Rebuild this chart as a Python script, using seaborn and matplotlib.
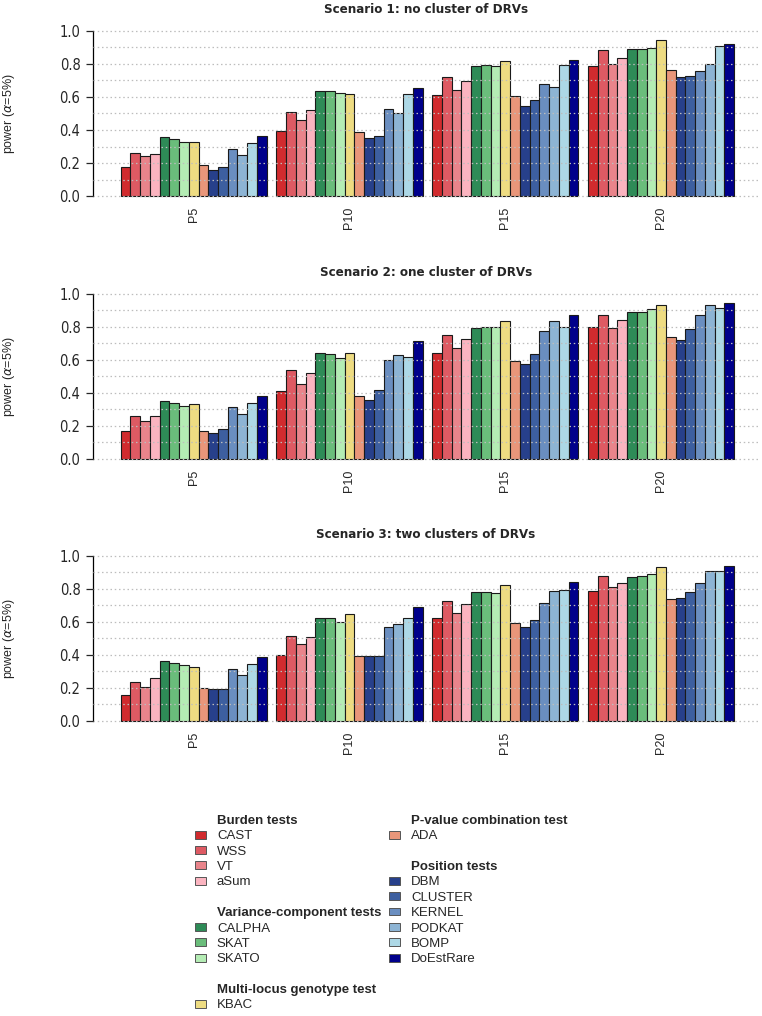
import pandas as pd
import seaborn as sns
import matplotlib.pyplot as plt
from matplotlib import font_manager
from matplotlib.patches import Patch

groups = ['P5', 'P10', 'P15', 'P20']
tests = ['CAST', 'WSS', 'VT', 'aSum', 'CALPHA', 'SKAT', 'SKATO', 'KBAC', 'ADA',
         'DBM', 'CLUSTER', 'KERNEL', 'PODKAT', 'BOMP', 'DoEstRare']
colors = ['#d12b2e', '#de5a63', '#e9848b', '#fbb4c0', '#2e8b57', '#6abd7b', '#b4ecb4',
          '#eedc82', '#e9967a', '#27408b', '#3d5fa0', '#6a8ec0', '#8db4d4', '#add8e6', '#00008b']

titles = ['Scenario 1: no cluster of DRVs',
          'Scenario 2: one cluster of DRVs',
          'Scenario 3: two clusters of DRVs']

# power per group, one list per test order above
s1_p5 = [0.173, 0.26, 0.244, 0.254, 0.358, 0.348, 0.325, 0.325, 0.187, 0.16, 0.175, 0.285, 0.248, 0.319, 0.366]
s1_p10 = [0.392, 0.508, 0.461, 0.522, 0.638, 0.634, 0.626, 0.62, 0.388, 0.35, 0.362, 0.526, 0.506, 0.618, 0.656]
s1_p15 = [0.612, 0.724, 0.64, 0.697, 0.789, 0.795, 0.79, 0.821, 0.606, 0.545, 0.583, 0.681, 0.66, 0.793, 0.827]
s1_p20 = [0.79, 0.882, 0.803, 0.837, 0.888, 0.89, 0.894, 0.943, 0.764, 0.724, 0.726, 0.76, 0.8, 0.911, 0.92]

s2_p5 = [0.168, 0.26, 0.227, 0.26, 0.349, 0.339, 0.318, 0.333, 0.168, 0.156, 0.183, 0.314, 0.27, 0.335, 0.381]
s2_p10 = [0.41, 0.54, 0.452, 0.521, 0.641, 0.635, 0.613, 0.641, 0.379, 0.355, 0.414, 0.596, 0.627, 0.619, 0.712]
s2_p15 = [0.639, 0.748, 0.671, 0.728, 0.795, 0.8, 0.8, 0.832, 0.592, 0.572, 0.635, 0.771, 0.834, 0.8, 0.868]
s2_p20 = [0.8, 0.868, 0.795, 0.838, 0.89, 0.888, 0.905, 0.929, 0.74, 0.718, 0.787, 0.87, 0.931, 0.913, 0.945]

s3_p5 = [0.154, 0.235, 0.207, 0.26, 0.361, 0.351, 0.337, 0.323, 0.197, 0.191, 0.191, 0.316, 0.28, 0.341, 0.385]
s3_p10 = [0.396, 0.513, 0.465, 0.507, 0.623, 0.623, 0.6, 0.649, 0.394, 0.394, 0.394, 0.566, 0.588, 0.623, 0.688]
s3_p15 = [0.621, 0.728, 0.653, 0.708, 0.779, 0.783, 0.775, 0.822, 0.592, 0.568, 0.609, 0.714, 0.785, 0.793, 0.842]
s3_p20 = [0.789, 0.874, 0.813, 0.836, 0.872, 0.878, 0.892, 0.929, 0.736, 0.744, 0.783, 0.832, 0.909, 0.907, 0.935]

scenarios = [[s1_p5, s1_p10, s1_p15, s1_p20],
             [s2_p5, s2_p10, s2_p15, s2_p20],
             [s3_p5, s3_p10, s3_p15, s3_p20]]

legend_layout = [('Burden tests', ['CAST', 'WSS', 'VT', 'aSum']),
                 ('Variance-component tests', ['CALPHA', 'SKAT', 'SKATO']),
                 ('Multi-locus genotype test', ['KBAC']),
                 ('P-value combination test', ['ADA']),
                 ('Position tests', ['DBM', 'CLUSTER', 'KERNEL', 'PODKAT', 'BOMP', 'DoEstRare'])]

# narrow font for ticks and titles if there is one
fonts = font_manager.fontManager.ttflist
if any(f.name == 'Liberation Sans Narrow' for f in fonts):
    narrow = dict(fontfamily='Liberation Sans Narrow')
elif any(f.name == 'DejaVu Sans' and f.stretch == 'condensed' for f in fonts):
    narrow = dict(fontfamily='DejaVu Sans', fontstretch='condensed')
else:
    narrow = dict(fontfamily='Liberation Sans')

sns.set_style('white')
plt.rcParams['font.family'] = ['Liberation Sans', 'DejaVu Sans']

fig = plt.figure(figsize=(7.62, 10.16), dpi=100)
W, H = 762, 1016
left_px, right_px = 93, 759
panels = [(24.4, 202.6), (287.1, 465.3), (549.1, 727.3)]

for k, (top, bot) in enumerate(panels):
    ax = fig.add_axes([left_px / W, 1 - bot / H, (right_px - left_px) / W, (bot - top) / H])
    rows = []
    for g, vals in zip(groups, scenarios[k]):
        for t, v in zip(tests, vals):
            rows.append({'group': g, 'test': t, 'power': v})
    df = pd.DataFrame(rows)
    sns.barplot(data=df, x='group', y='power', hue='test', order=groups, hue_order=tests,
                palette=colors, width=15 / 16, saturation=1, edgecolor='#1a1a1a',
                linewidth=0.8, legend=False, ax=ax)
    ax.set_xlim(-0.646, 3.628)
    ax.set_ylim(-0.04, 1.04)
    ax.set_yticks([0, 0.2, 0.4, 0.6, 0.8, 1.0])
    ax.set_yticklabels(['0.0', '0.2', '0.4', '0.6', '0.8', '1.0'], fontsize=10.5, **narrow)
    ax.set_yticks([0.1, 0.3, 0.5, 0.7, 0.9], minor=True)
    ax.grid(True, axis='y', which='both', color='#bdbdbd', linestyle=(0, (1.2, 2.2)), linewidth=0.9)
    ax.set_axisbelow(False)
    ax.tick_params(axis='y', which='major', length=5, width=0.9, direction='out', left=True, pad=4)
    ax.tick_params(axis='y', which='minor', length=0)
    ax.tick_params(axis='x', length=0, labelrotation=90, labelsize=9, pad=3)
    for s in ['top', 'right', 'bottom']:
        ax.spines[s].set_visible(False)
    ax.spines['left'].set_bounds(0, 1)
    ax.spines['left'].set_color('black')
    ax.spines['left'].set_linewidth(0.9)
    ax.set_xlabel('')
    ax.set_ylabel('power ($\\alpha$=5%)', fontsize=9)
    ax.yaxis.set_label_coords((17 - left_px) / (right_px - left_px), 0.5)
    ax.set_title(titles[k], fontsize=9.5, fontweight='bold', pad=8, **narrow)

# grouped legend in two columns
col1, col2 = [], []
for i, (head, members) in enumerate(legend_layout):
    target = col1 if i < 3 else col2
    if target:
        target.append((None, ''))
    target.append((None, head))
    for m in members:
        target.append((colors[tests.index(m)], m))
while len(col2) < len(col1):
    col2.append((None, ''))

handles, labels = [], []
for c, lab in col1 + col2:
    if c is None:
        handles.append(Patch(facecolor='none', edgecolor='none'))
    else:
        handles.append(Patch(facecolor=c, edgecolor='#555555', linewidth=0.7))
    labels.append(lab)
heads = [h for h, _ in legend_layout]

leg = fig.legend(handles, labels, ncol=2, loc='upper left', bbox_to_anchor=(195 / W, 1 - 815 / H),
                 frameon=False, fontsize=9.5, handlelength=0.83, handleheight=0.55,
                 handletextpad=0.83, labelspacing=0.255, columnspacing=0.6, borderpad=0,
                 borderaxespad=0)
for txt in leg.get_texts():
    if txt.get_text() in heads:
        txt.set_fontweight('bold')

fig.savefig('out.png', dpi=100)
